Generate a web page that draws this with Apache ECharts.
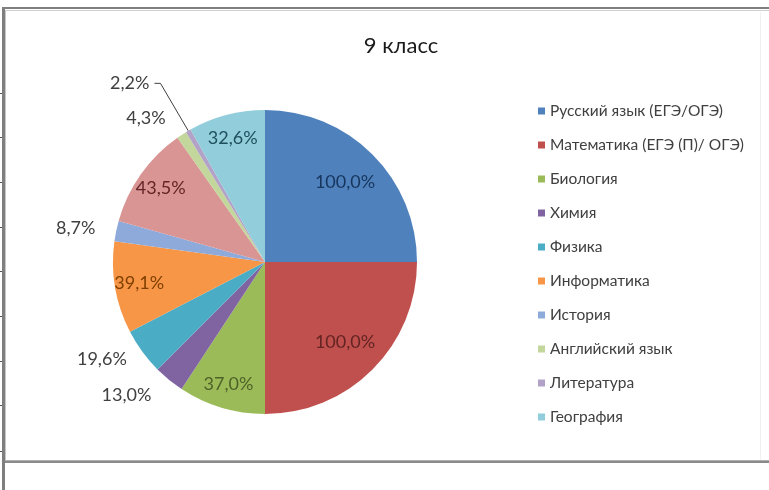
<!DOCTYPE html>
<html>
<head>
<meta charset="utf-8">
<script src="https://cdn.jsdelivr.net/npm/echarts@6/dist/echarts.min.js"></script>
<style>
html,body{margin:0;padding:0;background:#fff;}
#chart{width:769px;height:490px;}
</style>
</head>
<body>
<div id="chart"></div>
<script>
// ---- data ----
const categories = ['Русский язык (ЕГЭ/ОГЭ)', 'Математика (ЕГЭ (П)/ ОГЭ)', 'Биология', 'Химия', 'Физика', 'Информатика', 'История', 'Обществознание', 'Английский язык', 'Литература', 'География'];
const values = [100, 100, 37, 13, 19.6, 39.1, 8.7, 43.5, 4.3, 2.2, 32.6];
const legendItems = ['Русский язык (ЕГЭ/ОГЭ)', 'Математика (ЕГЭ (П)/ ОГЭ)', 'Биология', 'Химия', 'Физика', 'Информатика', 'История', 'Английский язык', 'Литература', 'География'];
const titleText = '9 класс';

// ---- styles ----
const colors = ['#4F81BD', '#C0504D', '#9BBB59', '#8064A2', '#4BACC6', '#F79646', '#8EAADB', '#D99594', '#C3D69B', '#B3A2C7', '#92CDDC'];
const insideTextColors = ['#17365D', '#632423', '#4F6228', '#3F3151', '#205867', '#7F3F00', '#243F60', '#632423', '#4F6228', '#3F3151', '#1F4F5C'];
const outsideIdx = [3, 4, 6, 8, 9];
const outsideLine = {3: {show: false, length: 20, length2: 0}, 4: {show: false, length: 13, length2: 0}, 6: {show: false, length: 12, length2: 4}, 8: {show: false, length: 20, length2: 0}, 9: {show: true, length: 55, length2: 6}};
const ringAIdx = [0, 1];
const ringBIdx = [2, 5, 7, 10];
const FONT = 'Lato, "Open Sans", sans-serif';
const CX = 265, CY = 262, R = 152;

function fmt(v) { return v.toFixed(1).replace('.', ',') + '%'; }

const mainData = categories.map((n, i) => {
  const out = outsideIdx.indexOf(i) >= 0;
  return {
    name: n, value: values[i],
    itemStyle: {color: colors[i]},
    label: {show: out},
    labelLine: out ? Object.assign({lineStyle: {color: '#404040', width: 1}}, outsideLine[i]) : {show: false}
  };
});
function ringData(idxs) {
  return categories.map((n, i) => ({
    name: n, value: values[i],
    itemStyle: {color: 'rgba(0,0,0,0)'},
    label: {show: idxs.indexOf(i) >= 0, color: insideTextColors[i]}
  }));
}

const chart = echarts.init(document.getElementById('chart'), null, {renderer: 'canvas'});

const frame = [];
frame.push({type: 'rect', shape: {x: 2, y: 7, width: 767, height: 2}, style: {fill: '#7f7f7f'}, silent: true});
frame.push({type: 'rect', shape: {x: 5, y: 10, width: 764, height: 1}, style: {fill: '#d0d0d0'}, silent: true});
frame.push({type: 'rect', shape: {x: 2, y: 7, width: 3, height: 483}, style: {fill: '#7f7f7f'}, silent: true});
frame.push({type: 'rect', shape: {x: 5, y: 11, width: 1, height: 450}, style: {fill: '#c8c8c8'}, silent: true});
frame.push({type: 'rect', shape: {x: 5, y: 460, width: 764, height: 1}, style: {fill: '#b0b0b0'}, silent: true});
frame.push({type: 'rect', shape: {x: 5, y: 461, width: 764, height: 2}, style: {fill: '#8a8a8a'}, silent: true});
frame.push({type: 'rect', shape: {x: 760, y: 12, width: 1, height: 448}, style: {fill: '#f0f0f0'}, silent: true});
[93, 137, 182, 227, 271, 316, 361, 405, 451].forEach(y => {
  frame.push({type: 'rect', shape: {x: 0, y: y, width: 2, height: 1}, style: {fill: '#555'}, silent: true});
});

const option = {
  backgroundColor: '#ffffff',
  animation: false,
  title: {
    text: titleText, left: 396, top: 30, textAlign: 'center',
    textStyle: {fontFamily: FONT, fontSize: 22, fontWeight: 'normal', color: '#1a1a1a'}
  },
  legend: {
    orient: 'vertical', left: 533, top: 97,
    data: legendItems,
    icon: 'rect', itemWidth: 7, itemHeight: 7, itemGap: 16,
    textStyle: {fontFamily: FONT, fontSize: 15.5, color: '#404040', lineHeight: 18},
    selectedMode: false
  },
  graphic: frame,
  series: [
    {
      type: 'pie', center: [CX, CY], radius: R, startAngle: 90, clockwise: true,
      avoidLabelOverlap: false, silent: true,
      itemStyle: {borderWidth: 0},
      label: {position: 'outside', formatter: p => fmt(p.value), fontFamily: FONT, fontSize: 18, color: '#404040'},
      emphasis: {disabled: true},
      data: mainData
    },
    {
      type: 'pie', center: [CX, CY], radius: [R * 0.5, R * 0.95], startAngle: 90, clockwise: true,
      avoidLabelOverlap: false, silent: true,
      label: {position: 'inside', formatter: p => fmt(p.value), fontFamily: FONT, fontSize: 18},
      labelLine: {show: false},
      emphasis: {disabled: true},
      data: ringData(ringAIdx)
    },
    {
      type: 'pie', center: [CX, CY], radius: [R * 0.66, R * 0.98], startAngle: 90, clockwise: true,
      avoidLabelOverlap: false, silent: true,
      label: {position: 'inside', formatter: p => fmt(p.value), fontFamily: FONT, fontSize: 18},
      labelLine: {show: false},
      emphasis: {disabled: true},
      data: ringData(ringBIdx)
    }
  ]
};
chart.setOption(option);
</script>
</body>
</html>
